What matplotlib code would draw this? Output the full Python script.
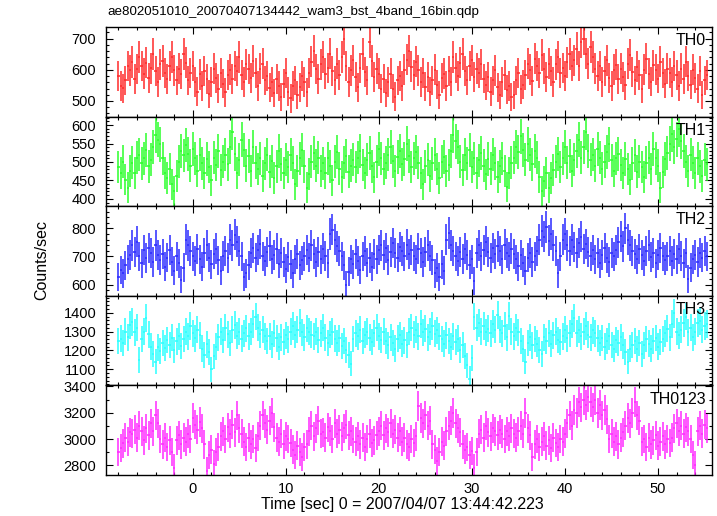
import numpy as np
import matplotlib
matplotlib.use('Agg')
import matplotlib.pyplot as plt
from matplotlib.ticker import MultipleLocator

plt.rcParams['font.family'] = ['Liberation Sans', 'DejaVu Sans']

# light curves, counts/sec, 0.25 s bins
th0 = [580, 548, 541, 566, 612, 598, 625, 570, 603,
       640, 612, 588, 622, 575, 605, 650, 596, 560, 618, 628, 590, 570, 612, 640, 598, 566,
       604, 586, 650, 622, 566, 590, 612,
       560, 530, 585, 548, 596, 570, 522, 560, 604, 575, 540, 590, 556, 528, 582, 600,
       570, 612, 596, 640, 584, 560, 618, 602, 574, 628, 590, 548, 604, 620, 566,
       580, 542, 560, 526, 570, 548, 512, 556, 590, 530, 508, 548, 566, 520, 544, 580, 560, 528,
       590, 626, 660, 602, 570, 618, 640, 588, 606, 652, 596, 566, 620,
       584, 640, 700, 612, 560, 598, 630, 578, 544, 606, 650, 592, 566, 690, 628, 576, 604, 588,
       540, 572, 526, 560, 588, 540, 514, 566, 580, 548,
       600, 632, 660, 610, 584, 626, 598,
       560, 590, 546, 578, 530, 566, 600, 552, 520, 574, 588, 548, 596, 562,
       640, 606, 580, 622, 650, 596, 566, 612, 630, 578, 604, 590, 618, 572,
       550, 576, 530, 566, 598, 544, 520, 560, 584, 536, 548, 512, 520, 566, 590, 538, 552,
       582, 620, 600, 564, 636, 612, 590, 648, 604, 576, 620, 596, 560, 618, 640, 590, 606, 580, 624, 650, 612,
       630, 668, 612, 690, 700, 652, 620, 672, 640, 604,
       580, 612, 560, 596, 630, 574, 548, 600, 616, 570,
       604, 576, 550, 620, 648, 592, 566, 610, 584, 540, 600, 636, 588, 562, 614, 600, 572, 626, 590, 556, 604,
       590, 560, 612, 584, 548, 604, 570, 626, 580, 552, 600, 574, 540, 596, 520, 566, 584]

th1 = [486, 470, 500, 452, 430, 476, 498, 470, 512,
       520, 496, 510, 532, 488, 506, 540,
       572, 560, 548,
       510, 470, 456, 480, 440, 420, 462,
       500, 530, 518, 546, 522, 490, 536, 510, 476, 520,
       496, 470, 508, 486, 450, 512, 492, 530, 478, 500,
       520, 494, 540, 580, 522, 470, 506, 560, 532, 490, 516, 476, 540, 498,
       480, 510, 462, 496, 520, 474, 502, 456, 488, 530, 494, 470, 506, 486,
       520, 498, 440, 476, 510, 532, 488, 430, 468, 500, 524, 490, 512, 476,
       496, 470, 510, 488, 450, 500, 526, 482, 460, 498, 516, 474, 490, 506,
       486, 512, 530, 492, 470, 506, 524, 488, 458, 500, 536, 510, 480, 498,
       520, 540, 502, 476, 514, 530, 494, 508, 550, 516, 486, 510, 526, 498,
       470, 440, 488, 506, 462, 496, 520, 480, 456, 500, 514, 476, 492, 530,
       572, 556, 540,
       500, 478, 520, 496, 532, 486, 510, 470, 504, 524,
       490, 466, 508, 482, 520, 496, 460, 488, 510, 476, 432, 470, 498, 512,
       540, 526, 570, 532, 506, 548, 520, 494, 530, 512,
       460, 420, 448, 470, 430, 456, 478,
       500, 522, 486, 510, 540, 498, 516, 476, 506, 530, 560, 512, 540, 580,
       530, 506, 520, 490, 536, 512, 482, 500, 528, 548, 504, 476, 510, 522,
       492, 470, 508, 480, 452, 496, 518, 474, 500, 486, 460, 498, 512, 480,
       536, 510, 490, 430, 472, 508, 524,
       550, 576, 540, 562, 590, 556, 530,
       500, 476, 520, 498, 470, 510, 488, 462, 506, 494]

th2 = [628, 652, 640, 668, 690, 706,
       740, 716, 752,
       700, 676, 722, 694, 730, 712, 680, 740, 706, 688,
       710, 664, 696, 724, 682, 650, 700, 676, 618, 660,
       760, 740, 718,
       700, 684, 726, 690, 664, 712, 740, 696, 672, 708, 728, 686, 650, 702, 720, 694,
       760, 740, 778, 752, 720, 700,
       628, 640, 668,
       712, 730, 696, 722, 744, 700, 684, 716, 738, 690, 706, 728, 674, 712,
       680, 656, 698, 672, 640, 690, 710, 668, 686, 700,
       722, 696, 740, 708, 680, 716, 690, 728, 702, 676,
       780, 796, 760, 736,
       720, 700, 668, 600, 646,
       690, 672, 710, 684, 652, 700, 720, 678, 694, 664, 708, 690,
       722, 740, 706, 730, 688, 716, 748, 712, 696, 734, 720, 700, 742, 710,
       724, 700, 690, 728, 712, 680, 716, 740, 702, 688,
       640, 660, 628, 672, 650,
       760, 784, 740, 720,
       700, 684, 716, 692, 728, 704, 670, 690, 612,
       712, 740, 700, 724, 752, 716, 694, 730, 708, 736, 720, 690, 742, 714, 700, 728, 710,
       690, 666, 704, 678, 650, 696, 712, 680, 700, 720,
       760, 790, 770, 804, 756, 780, 740,
       720, 640, 700, 760, 780,
       740, 720, 760, 734, 712, 748, 770, 726, 744, 716,
       700, 722, 690, 714, 676, 706, 730, 694, 680, 712, 700, 724,
       750, 772, 736, 800, 760, 740, 718,
       710, 690, 726, 704, 684, 720, 740, 698, 712, 676, 706, 730, 700, 688,
       700, 720, 684, 710, 690, 728, 702, 676, 712,
       620, 660, 690, 704, 680, 712, 696, 720, 700]

th3 = [1250, 1262, 1240, 1300, 1270, 1336, 1350, 1296, 1320,
       1150, 1260, 1300, 1374, 1286,
       1220, 1180, 1140, 1216, 1196,
       1240, 1212, 1256, 1230, 1268, 1204, 1248, 1276, 1222, 1260,
       1300, 1276, 1330, 1290, 1264, 1310, 1280,
       1210, 1176, 1232, 1190, 1100, 1168, 1220,
       1270, 1300, 1256, 1320, 1286, 1240, 1310, 1334, 1278, 1300, 1262, 1290, 1318, 1274,
       1300, 1340, 1380, 1320, 1286, 1310, 1276,
       1250, 1276, 1232, 1290, 1264, 1220, 1270, 1244, 1280, 1258,
       1300, 1330, 1282, 1310, 1344, 1296, 1270, 1318, 1300, 1284,
       1276, 1300, 1256, 1290, 1320, 1268, 1240, 1284, 1300, 1262,
       1240, 1264, 1222, 1250, 1200, 1176, 1130,
       1260, 1290, 1276, 1310, 1250, 1284, 1300, 1268, 1244, 1290, 1320, 1276, 1256, 1300,
       1250, 1226, 1270, 1240, 1210, 1262, 1280, 1236, 1254, 1230,
       1300, 1320, 1284, 1310, 1276, 1340, 1296, 1316, 1270, 1300, 1330, 1288, 1306, 1274,
       1260, 1236, 1280, 1250, 1220, 1274, 1244, 1262, 1200, 1230,
       1170, 1120, 1050, 1160,
       1380, 1320, 1344, 1300, 1330, 1296, 1316, 1290, 1340, 1310,
       1390, 1310, 1290, 1330, 1270, 1384, 1300, 1276, 1320, 1296,
       1250, 1210, 1140, 1240, 1270, 1226, 1260, 1236, 1200, 1180,
       1270, 1250, 1290, 1236, 1280, 1300, 1256, 1244, 1276, 1310, 1264, 1290, 1340, 1370,
       1290, 1310, 1276, 1300, 1330, 1284, 1270, 1306, 1290, 1264,
       1240, 1266, 1220, 1250, 1276, 1230, 1210, 1256, 1240, 1270, 1226, 1190, 1140, 1210,
       1230, 1250, 1206, 1240, 1180, 1226, 1260, 1236, 1210, 1250, 1266, 1220, 1244, 1260,
       1290, 1316, 1270, 1340, 1396, 1300, 1280, 1310, 1344, 1380,
       1296, 1320, 1270, 1300, 1344, 1356, 1310, 1330, 1340]

th0123 = [2900, 2930, 2966, 3010, 2980, 3050,
          3040, 3070, 3010, 3100, 3060, 2990, 3080, 3030, 3120, 3060, 3180, 3120,
          3000, 2960, 3010, 2940, 2990, 2900, 2780,
          2990, 3030, 2960, 3010, 2980, 3040, 3000,
          3160, 3110, 3070, 3130, 3080,
          2960, 2760, 2880, 2920, 2810, 2900, 2940,
          3020, 3060, 3000, 3090, 3040, 3110, 3050, 3180, 3080, 3040,
          2980, 2940, 3010, 2960, 3000, 2930, 3020,
          3100, 3180, 3120, 3070, 3140, 3200, 3090,
          3010, 2980, 3040, 2960, 3020, 3000, 2970,
          2920, 2880, 2950, 2900, 2860, 2940, 2960,
          3060, 3100, 3020, 3080, 3140, 3040,
          3050, 3010, 3090, 3060, 3000, 3120, 3040, 3070, 3020, 3080, 3110, 3030, 3060, 3000,
          2980, 3020, 2960, 3010, 2940, 3000, 3040, 2970, 2990, 3030,
          3060, 3100, 3030, 3080, 3050, 3120, 3040, 3070, 3010, 3060,
          2980, 3010, 2960, 2940, 3000, 2970, 3020,
          3250, 3160, 3120, 3180, 3100, 3140,
          2960, 2920, 2830, 2900, 2980, 2950,
          3060, 3100, 3140, 3200, 3120, 3080, 3050,
          2960, 2920, 2940, 2880, 2910, 2780, 2900,
          3040, 3070, 3010, 3100, 3050, 3020, 3080, 3060, 3030, 3070,
          3040, 3000, 3060, 3020, 3080, 3040, 3010,
          3060, 3100, 3040, 3200, 3080, 3030, 2860,
          2960, 3000, 2940, 2980, 3020, 2950, 2990, 2930, 3010, 2970, 2940, 3000, 2980, 3040,
          3120, 3180, 3100, 3220, 3200, 3280, 3240, 3300, 3260, 3320, 3280, 3240, 3300, 3200, 3260, 3180, 3220, 3150,
          3000, 3040, 2980, 3020, 2960, 3010, 3050,
          3100, 3160, 3120, 3200, 3280, 3180, 3140,
          2980, 3000, 2940, 3010, 2960, 2990, 3030, 2950, 2980, 3020, 2960, 3000, 2970, 3010,
          3080, 3120, 3060, 3100, 3040, 3090, 3060, 3000, 2880, 2800,
          3060, 3100, 3040, 3110, 3080]

names = ['TH0', 'TH1', 'TH2', 'TH3', 'TH0123']
series = [th0, th1, th2, th3, th0123]
colors = ['#ff2a2a', '#2aff2a', '#2a2aff', '#2affff', '#ff2aff']
ylims = [(450, 737), (380, 623), (560, 879), (1014, 1490), (2726, 3408)]
majors = [100, 50, 100, 100, 200]
minors = [20, 10, 20, 20, 100]

bin_size = 0.25
t_start = -8.0

fig = plt.figure(figsize=(7.17, 5.16), dpi=100)
W, H = 717.0, 516.0
left, right = 106 / W, 712 / W
top_px, bot_px = 27.0, 475.0
ph = (bot_px - top_px) / 5

axes = []
for i in range(5):
    y0 = 1 - (top_px + ph * (i + 1)) / H
    ax = fig.add_axes([left, y0, right - left, ph / H])
    rate = np.array(series[i], dtype=float)
    t = t_start + bin_size * np.arange(len(rate))
    err = np.sqrt(rate / bin_size)
    ax.errorbar(t, rate, xerr=bin_size / 2, yerr=err, fmt='none',
                ecolor=colors[i], elinewidth=1.1, capsize=0)
    ax.set_xlim(-9.33, 55.8)
    ax.set_ylim(*ylims[i])
    ax.xaxis.set_major_locator(MultipleLocator(10))
    ax.xaxis.set_minor_locator(MultipleLocator(2))
    ax.yaxis.set_major_locator(MultipleLocator(majors[i]))
    ax.yaxis.set_minor_locator(MultipleLocator(minors[i]))
    ax.tick_params(which='both', direction='in', top=True, right=True, width=0.8)
    ax.tick_params(which='major', length=5, labelsize=10.5)
    ax.tick_params(which='minor', length=2.5)
    ax.tick_params(axis='y', pad=7)
    ax.tick_params(axis='x', pad=5)
    for s in ax.spines.values():
        s.set_linewidth(1.0)
    if i < 4:
        ax.set_xticklabels([])
    ax.text(0.99, 0.93, names[i], transform=ax.transAxes, ha='right', va='top', fontsize=11.5)
    axes.append(ax)

fig.text(402 / W, 1 - 505 / H, 'Time [sec] 0 = 2007/04/07 13:44:42.223',
         ha='center', va='center', fontsize=11.5)
fig.text(42 / W, 1 - 260 / H, 'Counts/sec', rotation=90, ha='center', va='center', fontsize=11.5)
fig.text(107 / W, 1 - 12 / H, 'ae802051010_20070407134442_wam3_bst_4band_16bin.qdp',
         ha='left', va='center', fontsize=9.6,
         family=['Liberation Sans Narrow', 'Liberation Sans', 'DejaVu Sans'])

fig.savefig('out.png', dpi=100)
